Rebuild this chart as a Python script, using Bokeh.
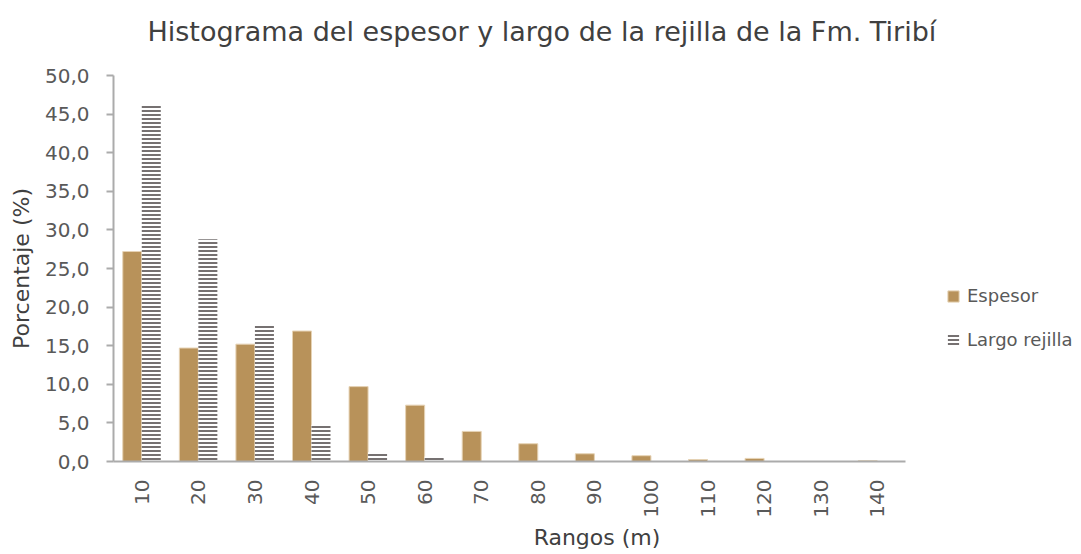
from bokeh.plotting import figure
from bokeh.models import (ColumnDataSource, Range1d, Legend, LegendItem, LinearAxis,
                          CustomJSTickFormatter, FixedTicker)
from bokeh.embed import file_html
from bokeh.resources import INLINE

categories = ["10", "20", "30", "40", "50", "60", "70", "80", "90", "100", "110", "120", "130", "140"]
espesor = [27.2, 14.7, 15.2, 16.9, 9.7, 7.3, 3.9, 2.3, 1.0, 0.75, 0.25, 0.4, 0.0, 0.1]
largo = [46.2, 28.8, 17.6, 4.75, 1.2, 0.65, 0.0, 0.15, 0.0, 0.0, 0.0, 0.0, 0.0, 0.0]
y_ticks = [0, 5, 10, 15, 20, 25, 30, 35, 40, 45, 50]

FONT = "DejaVu Sans"
W, H = 1080, 553
LEFT, TOP, BOTTOM = 113, 75, 92
AXIS_PX = 792  # pixel length of the category axis

n = len(categories)
bw = 0.336
centers = [i + 0.5 for i in range(n)]
src = ColumnDataSource(dict(
    xe=[c - bw / 2 for c in centers],
    xl=[c + bw / 2 for c in centers],
    esp=espesor, lar=largo))

x_end = n * (W - LEFT) / AXIS_PX

p = figure(width=W, height=H, x_range=Range1d(0, x_end), y_range=Range1d(0, 50),
           output_backend="svg", toolbar_location=None,
           min_border_left=LEFT, min_border_right=0, min_border_top=TOP, min_border_bottom=BOTTOM)
p.outline_line_color = None
p.grid.visible = False
p.background_fill_color = "white"

r1 = p.vbar(x="xe", top="esp", width=bw, source=src,
            fill_color="#B8925A", line_color="#E6D3B5", line_width=1)
r2 = p.vbar(x="xl", top="lar", width=bw, source=src,
            fill_color="white", line_color=None,
            hatch_pattern="horizontal_line", hatch_color="#767171", hatch_scale=4, hatch_weight=2)

# white-on-white spacer between the title and the plot area
spacer = LinearAxis(ticker=FixedTicker(ticks=[0.05]), axis_line_color=None,
                    major_tick_line_color="white", minor_tick_line_color=None,
                    major_tick_out=17, major_tick_in=0, minor_tick_out=0,
                    major_label_standoff=0, major_label_text_color=None,
                    formatter=CustomJSTickFormatter(code="return '';"))
p.add_layout(spacer, "above")

p.title.text = "Histograma del espesor y largo de la rejilla de la Fm. Tiribí"
p.title.align = "left"
p.title.offset = 34
p.title.text_font = FONT
p.title.text_font_size = "27px"
p.title.text_font_style = "normal"
p.title.text_color = "#404040"
p.title.standoff = 24

axis_color = "#ABABAB"
p.yaxis.ticker = FixedTicker(ticks=y_ticks)
p.yaxis.formatter = CustomJSTickFormatter(code="return tick.toFixed(1).replace('.', ',');")
p.yaxis.axis_line_color = axis_color
p.yaxis.axis_line_width = 2
p.yaxis.major_tick_line_color = axis_color
p.yaxis.major_tick_line_width = 2
p.yaxis.major_tick_out = 7
p.yaxis.major_tick_in = 0
p.yaxis.minor_tick_line_color = None
p.yaxis.major_label_text_font = FONT
p.yaxis.major_label_text_font_size = "20px"
p.yaxis.major_label_text_color = "#595959"
p.yaxis.major_label_standoff = 17
p.yaxis.axis_label = "Porcentaje (%)"
p.yaxis.axis_label_text_font = FONT
p.yaxis.axis_label_text_font_size = "22px"
p.yaxis.axis_label_text_font_style = "normal"
p.yaxis.axis_label_text_color = "#404040"
p.yaxis.axis_label_standoff = 8

xax = p.below[0]
xax.ticker = FixedTicker(ticks=centers)
xax.formatter = CustomJSTickFormatter(args=dict(cats=categories),
                                      code="return cats[Math.floor(tick)];")
xax.bounds = (0, n)
xax.axis_line_color = axis_color
xax.axis_line_width = 2
xax.major_tick_line_color = None
xax.minor_tick_line_color = None
xax.major_label_orientation = 1.5708
xax.major_label_text_font = FONT
xax.major_label_text_font_size = "20px"
xax.major_label_text_color = "#595959"
xax.major_label_standoff = 12
xax.axis_label = "Rangos (m)"
xax.axis_label_text_font = FONT
xax.axis_label_text_font_size = "22px"
xax.axis_label_text_font_style = "normal"
xax.axis_label_text_color = "#404040"
xax.axis_label_standoff = 4

legend = Legend(items=[LegendItem(label="Espesor", renderers=[r1]),
                       LegendItem(label="Largo rejilla", renderers=[r2])],
                location=(946 - LEFT, 111), orientation="vertical")
legend.border_line_color = None
legend.background_fill_alpha = 0
legend.label_text_font = FONT
legend.label_text_font_size = "18px"
legend.label_text_color = "#595959"
legend.glyph_width = 14
legend.glyph_height = 14
legend.spacing = 23
legend.padding = 0
legend.margin = 0
legend.label_standoff = 7
p.add_layout(legend, "center")

open("out.html", "w").write(file_html(p, INLINE))
